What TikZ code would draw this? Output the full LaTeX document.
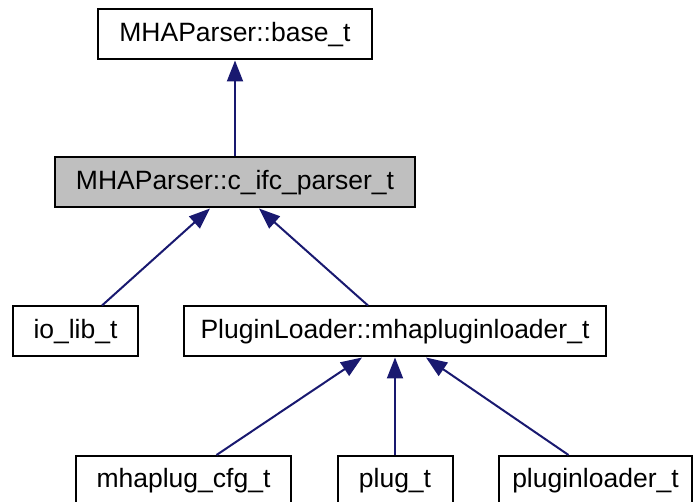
\documentclass[tikz,border=0pt]{standalone}
\usepackage{fontspec}
\setmainfont{Liberation Sans}
\usetikzlibrary{arrows.meta}
\definecolor{edgeblue}{HTML}{191970}
\definecolor{curgray}{HTML}{BFBFBF}
\begin{document}
\begin{tikzpicture}[x=1pt, y=-1pt,
  cls/.style={draw, line width=2pt, inner sep=0pt, font=\fontsize{26.5}{30}\selectfont, minimum height=50pt},
  inh/.style={draw=edgeblue, line width=2pt, {Triangle[length=21pt,width=16pt,fill=edgeblue]}-}]
  \useasboundingbox (0,0) rectangle (694,502);
  \node[cls, minimum width=274pt] (base) at (235,34.5) {MHAParser::base\_t};
  \node[cls, fill=curgray, minimum width=360pt] (ifc) at (235,182.5) {MHAParser::c\_ifc\_parser\_t};
  \node[cls, minimum width=125pt] (iolib) at (75.5,331.5) {io\_lib\_t};
  \node[cls, minimum width=422pt] (loader) at (395,331.5) {PluginLoader::mhapluginloader\_t};
  \node[cls, minimum width=215pt] (cfg) at (183.5,481) {mhaplug\_cfg\_t};
  \node[cls, minimum width=115pt] (plug) at (395,481) {plug\_t};
  \node[cls, minimum width=193pt] (pl) at (595.5,481) {pluginloader\_t};

  \draw[inh] (base.south) -- (ifc.north);
  \draw[inh] ([xshift=-25pt]ifc.south) -- ([xshift=26.5pt]iolib.north);
  \draw[inh] ([xshift=24pt]ifc.south) -- ([xshift=-27pt]loader.north);
  \draw[inh] ([xshift=-33pt]loader.south) -- ([xshift=33pt]cfg.north);
  \draw[inh] (loader.south) -- (plug.north);
  \draw[inh] ([xshift=31pt]loader.south) -- ([xshift=-27pt]pl.north);
\end{tikzpicture}
\end{document}
